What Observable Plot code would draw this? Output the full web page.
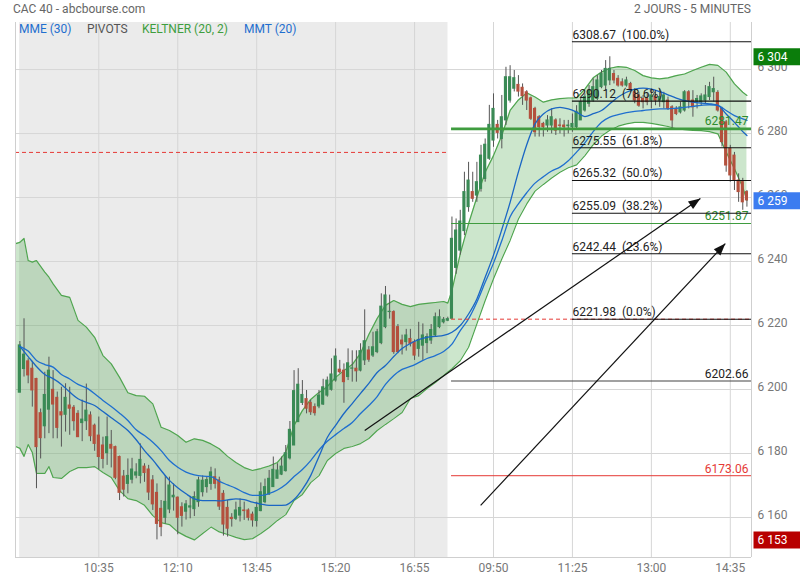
<!DOCTYPE html>
<html><head><meta charset="utf-8">
<script src="https://cdn.jsdelivr.net/npm/d3@7"></script>
<script src="https://cdn.jsdelivr.net/npm/@observablehq/plot@0.6"></script>
<style>
body{margin:0;background:#fff;font-family:Roboto,sans-serif;}
#wrap{position:relative;width:800px;height:580px;overflow:hidden;}
#chart{position:absolute;left:0;top:0;}
.hd{position:absolute;font-size:12px;white-space:nowrap;line-height:14px;}
</style></head><body>
<div id="wrap">
<div id="chart"></div>
<div class="hd" style="left:13px;top:2px;color:#666">CAC 40 - abcbourse.com</div>
<div class="hd" style="right:49px;top:2px;color:#666">2 JOURS - 5 MINUTES</div>
<div class="hd" style="left:19px;top:22px;color:#1f6fcf">MME (30)</div>
<div class="hd" style="left:87px;top:22px;color:#555">PIVOTS</div>
<div class="hd" style="left:142px;top:22px;color:#3e9e3e">KELTNER (20, 2)</div>
<div class="hd" style="left:244px;top:22px;color:#1f6fcf">MMT (20)</div>
</div>
<script>
// ---- candles (5-minute bars, day 1 = bars 0..103, day 2 = bars 104..175)
const open = [
6199.0,6206.4,6208.8,6206.5,6203.3,6192.6,6188.5,6193.7,6199.9,6197.4,
6192.9,6192.1,6195.0,6194.3,6192.4,6189.5,6190.1,6191.9,6188.7,6185.6,
6182.5,6180.1,6182.7,6182.0,6178.9,6172.8,6170.5,6171.8,6173.1,6173.0,
6175.9,6175.0,6171.6,6167.7,6162.7,6159.9,6162.5,6166.3,6166.2,6163.2,
6161.8,6163.1,6162.6,6164.8,6167.9,6169.5,6170.5,6172.6,6171.6,6167.4,
6163.0,6159.9,6159.6,6160.6,6162.2,6162.2,6160.9,6158.9,6162.0,6164.8,
6167.2,6169.5,6172.1,6173.4,6174.5,6178.5,6182.5,6189.8,6195.8,6197.0,
6195.8,6194.5,6194.7,6195.3,6198.1,6199.9,6202.8,6206.2,6205.9,6203.9,
6206.5,6206.5,6205.9,6209.1,6212.2,6210.6,6211.7,6214.5,6219.5,6224.2,
6224.2,6219.5,6215.3,6214.8,6215.8,6214.8,6212.7,6213.7,6214.5,6215.3,
6216.9,6219.5,6221.0,6221.5,6222.1,6238.0,6243.4,6249.5,6257.0,6261.7,
6260.6,6262.7,6265.8,6272.1,6277.8,6282.7,6278.3,6284.1,6290.3,6294.0,
6295.2,6294.3,6292.9,6291.0,6287.7,6285.1,6283.0,6282.5,6282.5,6284.1,
6282.5,6282.5,6282.3,6282.0,6282.0,6284.1,6287.2,6289.3,6290.3,6290.8,
6294.5,6295.0,6296.6,6298.6,6297.1,6296.0,6295.0,6295.5,6292.9,6291.9,
6290.8,6290.8,6290.3,6291.4,6290.3,6289.8,6290.3,6288.2,6287.7,6286.6,
6287.2,6292.9,6290.3,6290.0,6289.8,6290.3,6291.4,6292.9,6292.7,6287.7,
6283.5,6275.2,6273.1,6265.3,6264.8,6261.7];
const high = [
6215.0,6222.1,6209.6,6208.8,6203.5,6193.9,6205.4,6210.1,6205.9,6199.2,
6200.7,6201.8,6200.7,6195.0,6193.4,6196.7,6201.7,6193.0,6189.2,6191.4,
6185.1,6191.4,6187.2,6182.3,6179.2,6174.7,6178.3,6178.5,6176.8,6183.0,
6176.8,6176.3,6173.1,6170.5,6165.3,6173.1,6172.6,6170.5,6166.4,6164.6,
6165.3,6166.6,6168.0,6172.6,6173.0,6172.8,6175.7,6175.2,6172.6,6168.4,
6165.3,6161.2,6164.8,6165.8,6164.8,6162.7,6161.7,6164.8,6170.8,6172.0,
6174.7,6178.9,6176.8,6178.9,6182.5,6190.0,6205.9,6206.5,6202.8,6199.7,
6196.6,6195.5,6199.7,6203.2,6203.9,6209.6,6212.7,6209.1,6208.0,6212.7,
6212.1,6212.1,6214.3,6224.9,6213.4,6217.9,6218.8,6229.9,6232.2,6229.5,
6224.6,6220.3,6217.0,6218.8,6218.8,6215.5,6221.0,6220.5,6217.4,6220.3,
6223.9,6224.9,6222.5,6222.6,6253.9,6253.3,6256.0,6267.9,6271.0,6267.9,
6271.0,6276.3,6278.3,6288.8,6292.4,6284.1,6291.9,6300.7,6301.2,6299.7,
6298.1,6295.5,6293.4,6291.4,6288.2,6285.6,6283.5,6285.6,6287.7,6284.6,
6284.6,6284.1,6284.1,6286.1,6288.7,6291.3,6292.4,6295.0,6297.1,6298.1,
6299.7,6302.8,6304.0,6299.7,6298.1,6297.1,6297.6,6296.0,6294.0,6292.9,
6291.9,6292.4,6294.0,6292.9,6294.0,6292.9,6291.4,6288.7,6288.4,6289.8,
6293.4,6293.4,6293.4,6291.9,6292.4,6295.0,6296.0,6297.6,6293.4,6288.2,
6284.1,6276.3,6274.1,6267.4,6266.0,6262.2];
const low = [
6199.0,6203.9,6201.8,6194.5,6169.0,6178.3,6184.6,6186.2,6184.6,6184.6,
6182.0,6186.7,6185.7,6187.0,6185.0,6183.7,6187.2,6183.7,6180.7,6174.9,
6175.2,6176.3,6175.5,6171.8,6165.3,6166.4,6167.4,6170.5,6172.1,6170.5,
6171.0,6165.3,6162.2,6153.0,6154.0,6158.0,6161.2,6162.0,6154.6,6157.0,
6159.2,6159.6,6160.3,6163.2,6166.4,6167.6,6168.5,6168.9,6162.2,6154.2,
6153.9,6157.0,6159.1,6158.6,6159.1,6158.9,6157.0,6157.0,6161.8,6164.3,
6166.9,6169.5,6172.1,6173.1,6174.2,6178.0,6182.5,6189.8,6195.0,6192.4,
6191.9,6191.7,6194.0,6195.0,6197.6,6199.5,6202.3,6204.9,6195.7,6202.8,
6202.3,6202.3,6205.5,6207.5,6208.5,6210.0,6211.2,6214.0,6219.0,6222.0,
6211.0,6211.2,6210.8,6212.0,6213.3,6209.1,6210.1,6209.1,6211.2,6214.1,
6216.5,6219.0,6220.5,6221.2,6222.1,6236.0,6242.0,6248.1,6255.4,6258.5,
6258.5,6261.7,6264.8,6271.6,6275.7,6278.3,6275.2,6282.5,6289.5,6293.0,
6291.4,6288.8,6287.2,6284.1,6278.9,6278.9,6278.9,6280.4,6279.9,6279.4,
6279.9,6278.9,6279.9,6280.4,6281.0,6284.1,6286.7,6288.2,6289.8,6290.3,
6294.0,6293.4,6295.0,6295.5,6294.5,6294.5,6294.5,6292.9,6289.3,6288.2,
6287.7,6288.7,6287.7,6288.7,6288.2,6287.7,6287.2,6281.5,6285.6,6286.1,
6286.7,6287.7,6285.1,6287.7,6288.7,6289.3,6290.3,6289.8,6286.7,6275.8,
6267.9,6264.8,6262.2,6258.5,6256.0,6257.0];
const close = [
6213.8,6210.9,6204.4,6199.7,6182.0,6184.8,6198.3,6205.9,6195.3,6188.0,
6191.9,6197.4,6194.0,6190.1,6185.1,6190.6,6193.4,6185.4,6183.0,6178.9,
6178.3,6185.1,6181.5,6172.4,6167.7,6168.7,6173.0,6175.0,6174.1,6178.0,
6173.9,6167.8,6164.1,6158.0,6157.0,6164.9,6170.0,6166.8,6159.9,6160.5,
6164.1,6163.5,6166.4,6171.6,6171.5,6171.7,6174.1,6170.5,6163.4,6157.8,
6156.5,6159.5,6162.2,6163.0,6162.0,6159.9,6159.1,6163.0,6167.9,6169.5,
6172.1,6174.9,6174.7,6175.9,6180.1,6187.4,6199.5,6201.5,6198.3,6194.0,
6192.9,6192.6,6198.1,6200.7,6202.8,6204.7,6210.3,6205.4,6202.3,6208.2,
6206.6,6205.7,6212.0,6215.1,6209.3,6213.2,6217.9,6225.9,6229.4,6224.3,
6211.7,6211.7,6214.1,6216.9,6214.3,6210.6,6215.5,6216.9,6216.4,6218.6,
6222.6,6222.6,6221.8,6222.0,6247.1,6249.7,6252.5,6261.7,6265.3,6259.6,
6264.8,6273.1,6276.5,6282.7,6287.7,6280.2,6285.1,6297.6,6297.6,6297.3,
6293.1,6291.7,6290.3,6284.6,6280.4,6282.0,6282.0,6284.1,6285.1,6280.9,
6282.4,6282.0,6282.5,6283.0,6286.8,6289.8,6291.4,6293.4,6294.5,6296.6,
6298.6,6300.2,6300.2,6296.6,6295.0,6295.0,6296.6,6293.9,6290.3,6288.7,
6289.8,6289.8,6291.9,6290.3,6291.4,6291.9,6287.7,6284.1,6286.1,6288.2,
6292.9,6290.3,6288.2,6290.8,6291.6,6291.9,6294.5,6293.9,6287.2,6277.3,
6270.0,6266.9,6265.3,6261.7,6258.5,6259.1];

// ---- Keltner (20, 2) channel, read at these bar positions
const keltnerBar = [
-1,0,1,2,3,4,6,7,8,10,
12,14,16,18,20,22,24,26,28,30,
32,34,36,38,40,42,44,46,48,50,
52,54,56,58,60,62,64,66,68,70,
72,74,76,78,80,82,84,86,88,90,
92,94,96,98,100,102,103,104,106,108,
110,112,114,116,118,120,122,124,126,128,
130,132,134,136,138,140,142,144,146,148,
150,152,154,156,158,160,162,164,166,168,
170,172,174,175];
const keltnerUpper = [
6245.6,6246.0,6247.2,6240.3,6239.8,6240.3,6236.7,6235.1,6233.0,6229.4,
6228.8,6221.6,6219.5,6216.3,6210.6,6208.0,6203.8,6199.0,6198.1,6197.9,
6195.5,6188.2,6187.2,6185.6,6183.5,6184.6,6184.1,6183.0,6181.5,6179.1,
6177.2,6175.6,6174.7,6175.3,6176.1,6177.2,6180.3,6188.8,6193.4,6196.9,
6199.1,6200.9,6203.8,6205.9,6207.8,6211.3,6217.2,6222.2,6226.3,6227.8,
6226.6,6225.9,6226.6,6226.9,6227.2,6227.5,6227.0,6230.9,6242.4,6251.8,
6260.1,6267.9,6273.1,6279.4,6287.2,6290.5,6292.7,6291.4,6289.8,6290.5,
6290.9,6291.1,6291.1,6293.9,6297.4,6299.2,6300.4,6300.9,6300.7,6299.7,
6298.1,6297.4,6297.1,6297.4,6298.1,6298.6,6299.7,6300.7,6301.6,6301.3,
6299.2,6295.5,6292.9,6291.9];
const keltnerLower = [
6182.2,6181.6,6179.1,6182.8,6180.3,6173.8,6173.8,6175.9,6172.5,6172.2,
6174.4,6175.6,6175.6,6175.9,6174.1,6172.5,6168.4,6165.9,6165.3,6163.8,
6160.6,6158.4,6157.8,6155.5,6154.1,6153.0,6155.0,6157.0,6155.5,6154.7,
6153.8,6153.1,6153.4,6155.0,6156.9,6159.1,6160.9,6165.3,6167.2,6170.9,
6173.1,6177.8,6180.0,6181.6,6182.2,6183.1,6184.7,6187.2,6189.1,6190.9,
6192.8,6197.2,6198.1,6200.3,6202.2,6204.4,6205.5,6206.5,6209.0,6213.2,
6220.5,6227.8,6234.6,6240.8,6246.6,6253.3,6258.0,6262.0,6264.1,6266.1,
6267.9,6269.3,6270.2,6273.1,6276.5,6279.2,6281.0,6282.3,6283.0,6283.5,
6283.5,6283.2,6282.7,6282.2,6281.5,6281.2,6281.0,6280.9,6280.6,6279.9,
6274.2,6269.0,6263.2,6259.1];

// ---- moving averages MME (30) and MMT (20), read at these bar positions
const maBar = [
0,2,4,6,8,10,12,14,16,18,
20,22,24,26,28,30,32,34,36,38,
40,42,44,46,48,50,52,54,56,58,
60,62,64,66,68,70,72,74,76,78,
80,82,84,86,88,90,92,94,96,98,
100,102,104,106,108,110,112,114,116,118,
120,122,124,126,128,130,132,134,136,138,
140,142,144,146,148,150,152,154,156,158,
160,162,164,166,168,170,172,174,175];
const mme30 = [
6213.5,6212.0,6209.1,6207.8,6207.0,6204.7,6203.3,6201.6,6200.5,6198.7,
6196.6,6194.7,6192.6,6190.3,6187.4,6185.6,6183.5,6180.9,6177.8,6175.7,
6174.2,6173.3,6172.9,6172.8,6171.3,6170.2,6169.1,6167.8,6166.9,6166.9,
6167.5,6168.6,6170.3,6172.8,6175.0,6177.8,6181.1,6183.8,6185.9,6187.8,
6189.7,6192.5,6195.0,6197.8,6201.6,6204.4,6206.3,6207.2,6208.4,6209.7,
6210.6,6211.9,6214.2,6218.4,6222.1,6227.3,6233.5,6239.5,6246.5,6254.0,
6258.0,6261.5,6264.5,6266.5,6268.3,6269.5,6271.5,6274.2,6277.1,6280.6,
6283.5,6285.1,6285.9,6286.5,6286.9,6287.2,6287.5,6287.7,6287.7,6287.9,
6288.2,6288.5,6288.8,6289.0,6288.8,6287.2,6285.6,6284.6,6284.1];
const mmt20 = [
6213.5,6210.3,6207.2,6204.7,6203.4,6201.6,6199.2,6197.1,6196.0,6195.0,
6193.1,6191.2,6189.3,6187.2,6184.3,6180.9,6178.0,6174.7,6171.6,6169.3,
6167.4,6165.8,6165.3,6165.3,6165.2,6165.5,6165.8,6165.6,6164.8,6164.2,
6163.8,6163.8,6163.9,6165.6,6168.8,6173.1,6179.1,6185.0,6188.8,6192.5,
6195.6,6198.8,6201.9,6205.3,6207.5,6210.3,6212.8,6214.4,6215.6,6216.3,
6216.6,6216.9,6217.9,6220.0,6223.6,6228.3,6235.1,6242.0,6250.0,6258.5,
6268.0,6276.5,6283.0,6286.1,6287.7,6288.2,6287.7,6286.7,6285.3,6286.2,
6287.2,6289.3,6291.4,6292.9,6293.9,6294.2,6293.9,6293.1,6292.1,6291.1,
6290.3,6289.8,6289.5,6289.3,6288.8,6286.1,6283.5,6280.6,6279.4];

// ---- levels
const day1Bars = 104;            // 09:00 .. 17:35
const fibFromBar = 133;          // 11:25 day 2
const fibLevels = [6308.67, 6290.12, 6275.55, 6265.32, 6255.09, 6242.44, 6221.98];
const fibPct = ["100.0", "78.6", "61.8", "50.0", "38.2", "23.6", "0.0"];
const refDay1 = 6274.1;          // red dashed, day 1
const refDay2 = 6221.98;         // red dashed, day 2
const pivotR1 = 6281.47, pivotP = 6251.87, pivotS1 = 6202.66, pivotS2 = 6173.06;
const lastPrice = 6259, periodHigh = 6304, periodLow = 6153;

// ---- arrows (bar position, price)
const arrowX1 = [83.0, 110.9], arrowY1 = [6187.2, 6163.8];
const arrowX2 = [163.8, 169.8], arrowY2 = [6259.7, 6245.6];

// ---- axes
const yTicks = [6160, 6180, 6200, 6220, 6240, 6260, 6280, 6300];
const xTickBar = [19, 38, 57, 76, 95, 114, 133, 152, 171];
const xTickLabels = ["10:35", "12:10", "13:45", "15:20", "16:55", "09:50", "11:25", "13:00", "14:35"];

// ================= build =================
const W = 800, H = 580, mL = 15, mR = 49, mT = 22, mB = 23;
const xMin = -1.05, xMax = 176.1, yMin = 6147.5, yMax = 6314.7;
const kx = (W - mL - mR) / (xMax - xMin), ky = (H - mT - mB) / (yMax - yMin);

const bars = open.map((o, i) => ({i, o, h: high[i], l: low[i], c: close[i]}));
const band = keltnerBar.map((x, j) => ({x, hi: keltnerUpper[j], lo: keltnerLower[j]}));
const ma = maBar.map((x, j) => ({x, mme: mme30[j], mmt: mmt20[j]}));
const fib = fibLevels.map((v, j) => ({v, label: v.toFixed(2) + "\u00a0\u00a0(" + fibPct[j] + "%)"}));
const arrows = arrowX1.map((x1, j) => {
  const a = {x1, y1: arrowY1[j], x2: arrowX2[j], y2: arrowY2[j]};
  const dx = (a.x2 - a.x1) * kx, dy = -(a.y2 - a.y1) * ky;
  a.angle = Math.atan2(dx, -dy) * 180 / Math.PI;
  return a;
});
const fmtSp = d => d3.format(",")(d).replace(",", " ");
const day2From = day1Bars - 0.1;

const headSym = {draw(c) { c.moveTo(0, 0); c.lineTo(4.5, 12); c.lineTo(-4.5, 12); c.closePath(); }};
const tagSym = {draw(c) { c.moveTo(2, -8.5); c.lineTo(49, -8.5); c.lineTo(49, 8.5); c.lineTo(2, 8.5); c.closePath(); }};

const GREEN = "#3a8a55", RED = "#b3503d";

const chart = Plot.plot({
  width: W, height: H, marginLeft: mL, marginRight: mR, marginTop: mT, marginBottom: mB,
  x: {domain: [xMin, xMax], axis: null},
  y: {domain: [yMin, yMax], axis: null},
  style: {fontFamily: "Roboto, sans-serif", fontSize: "12px", background: "transparent", overflow: "visible"},
  marks: [
    Plot.rect([0], {x1: -0.05, x2: day1Bars - 0.95, y1: yMin, y2: yMax, fill: "#ebebeb"}),
    Plot.ruleY(yTicks, {stroke: "#d6d6d6"}),
    Plot.ruleX(xTickBar, {stroke: "#d6d6d6"}),
    // Keltner channel
    Plot.areaY(band, {x: "x", y1: "lo", y2: "hi", fill: "rgb(0,128,0)", fillOpacity: 0.2}),
    Plot.line(band, {x: "x", y: "hi", stroke: "#4fa54f", strokeWidth: 1.2}),
    Plot.line(band, {x: "x", y: "lo", stroke: "#4fa54f", strokeWidth: 1.2}),
    // candles
    Plot.ruleX(bars, {x: "i", y1: "l", y2: "h", stroke: "#555", strokeWidth: 1}),
    Plot.rect(bars, {filter: d => d.c >= d.o, x1: d => d.i - 0.38, x2: d => d.i + 0.38, y1: "o", y2: "c", fill: GREEN, insetTop: -0.5, insetBottom: -0.5}),
    Plot.rect(bars, {filter: d => d.c < d.o, x1: d => d.i - 0.38, x2: d => d.i + 0.38, y1: "o", y2: "c", fill: RED, insetTop: -0.5, insetBottom: -0.5}),
    // moving averages
    Plot.line(ma, {x: "x", y: "mme", stroke: "#1f6fcf", strokeWidth: 1.3, curve: "monotone-x"}),
    Plot.line(ma, {x: "x", y: "mmt", stroke: "#1a66c4", strokeWidth: 1.3, curve: "monotone-x"}),
    // reference / pivot lines
    Plot.ruleY([refDay1], {x1: xMin, x2: day1Bars - 0.95, stroke: "#e53935", strokeWidth: 1, strokeDasharray: "4,3"}),
    Plot.ruleY([refDay2], {x1: day2From, x2: xMax, stroke: "#e53935", strokeWidth: 1, strokeDasharray: "4,3"}),
    Plot.ruleY([pivotR1], {x1: day2From, x2: xMax, stroke: "#3f9c3f", strokeWidth: 2.6}),
    Plot.ruleY([pivotP], {x1: day2From, x2: xMax, stroke: "#3f9c3f", strokeWidth: 1.1}),
    Plot.ruleY([pivotS1], {x1: day2From, x2: xMax, stroke: "#444", strokeWidth: 1.1}),
    Plot.ruleY([pivotS2], {x1: day2From, x2: xMax, stroke: "#e53935", strokeWidth: 1}),
    Plot.text([pivotR1], {x: xMax, y: d => d, text: d => d.toFixed(2), textAnchor: "end", dx: -3, dy: -8, fill: "#2e8b2e", fontSize: 12}),
    Plot.text([pivotP], {x: xMax, y: d => d, text: d => d.toFixed(2), textAnchor: "end", dx: -3, dy: -7, fill: "#2e8b2e", fontSize: 12}),
    Plot.text([pivotS1], {x: xMax, y: d => d, text: d => d.toFixed(2), textAnchor: "end", dx: -3, dy: -7, fill: "#222", fontSize: 12}),
    Plot.text([pivotS2], {x: xMax, y: d => d, text: d => d.toFixed(2), textAnchor: "end", dx: -3, dy: -7, fill: "#e53935", fontSize: 12}),
    // Fibonacci retracement
    Plot.ruleY(fib, {y: "v", x1: fibFromBar, x2: xMax, stroke: "#111", strokeWidth: 1.1}),
    Plot.text(fib, {x: fibFromBar, y: "v", text: "label", textAnchor: "start", dx: 0, dy: -7, fill: "#222", fontSize: 12}),
    // arrows
    Plot.link(arrows, {x1: "x1", y1: "y1", x2: "x2", y2: "y2", stroke: "#111", strokeWidth: 1.2}),
    Plot.dot(arrows, {x: "x2", y: "y2", symbol: headSym, rotate: "angle", fill: "#111", stroke: "none", r: 6}),
    // frame
    Plot.ruleX([xMin], {stroke: "#cfcfcf"}),
    Plot.ruleX([xMax], {stroke: "#cfcfcf"}),
    Plot.ruleY([yMin], {stroke: "#cfcfcf"}),
    // axes
    Plot.axisY({anchor: "right", ticks: yTicks, tickSize: 0, tickPadding: 6, tickFormat: fmtSp, fill: "#777", fontSize: 12, dy: -2}),
    Plot.axisX({anchor: "bottom", ticks: xTickBar, tickSize: 0, tickPadding: 6, tickFormat: d => xTickLabels[xTickBar.indexOf(d)], fill: "#777", fontSize: 12}),
    // price tags
    Plot.dot([periodHigh], {x: xMax, y: d => d, symbol: tagSym, fill: "#0b7d0b", stroke: "none", r: 6}),
    Plot.dot([lastPrice], {x: xMax, y: d => d, symbol: tagSym, fill: "#3c7cf0", stroke: "none", r: 6}),
    Plot.dot([periodLow], {x: xMax, y: d => d, symbol: tagSym, fill: "#b80000", stroke: "none", r: 6}),
    Plot.text([periodHigh, lastPrice, periodLow], {x: xMax, y: d => d, text: fmtSp, textAnchor: "start", dx: 6, fill: "white", fontSize: 12})
  ]
});
document.getElementById("chart").appendChild(chart);
</script>
</body></html>
